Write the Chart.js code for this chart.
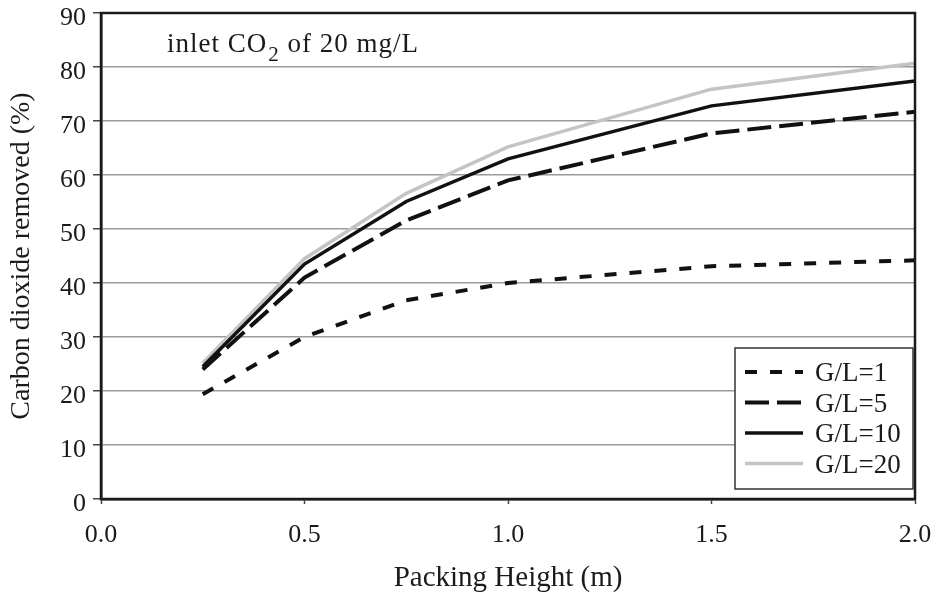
<!DOCTYPE html>
<html>
<head>
<meta charset="utf-8">
<script src="https://cdn.jsdelivr.net/npm/chart.js@4.4.0/dist/chart.umd.min.js"></script>
<style>
  html, body { margin: 0; padding: 0; background: #fff; }
  #wrap { width: 938px; height: 593px; }
</style>
</head>
<body>
<div id="wrap"><canvas id="myChart"></canvas></div>
<script>
// Packing height (m) of each measured point
const packingHeight = [0.25, 0.5, 0.75, 1.0, 1.5, 2.0];
// Carbon dioxide removed (%) for each gas/liquid ratio
const removedGL1 = [19.4, 30.0, 36.8, 40.0, 43.1, 44.2];
const removedGL5 = [24.0, 41.0, 51.6, 59.0, 67.7, 71.7];
const removedGL10 = [24.5, 43.5, 55.1, 63.0, 72.8, 77.4];
const removedGL20 = [25.2, 44.5, 56.6, 65.2, 75.9, 80.7];
const seriesLabels = ["G/L=1", "G/L=5", "G/L=10", "G/L=20"];
const xTicks = [0.0, 0.5, 1.0, 1.5, 2.0];
const yTicks = [0, 10, 20, 30, 40, 50, 60, 70, 80, 90];

const serif = "'Liberation Serif', 'Times New Roman', serif";
const ink = "#1a1a1a";

function toPoints(values) {
  return packingHeight.map((x, i) => ({ x: x, y: values[i] }));
}

// frame round the plot area
const plotFrame = {
  id: "plotFrame",
  afterDatasetsDraw(chart) {
    const { ctx, chartArea } = chart;
    ctx.save();
    ctx.strokeStyle = ink;
    ctx.lineWidth = 2.5;
    ctx.strokeRect(chartArea.left, chartArea.top, chartArea.right - chartArea.left, chartArea.bottom - chartArea.top);
    ctx.restore();
  },
};

// legend in a white box, bottom right inside the plot
const boxLegend = {
  id: "boxLegend",
  afterDraw(chart) {
    const { ctx, chartArea } = chart;
    const w = 178, h = 141;
    const left = chartArea.right - 2 - w;
    const top = chartArea.bottom - 10 - h;
    ctx.save();
    ctx.fillStyle = "#fff";
    ctx.fillRect(left, top, w, h);
    ctx.strokeStyle = "#333";
    ctx.lineWidth = 1.5;
    ctx.strokeRect(left, top, w, h);
    ctx.font = "27px " + serif;
    ctx.textBaseline = "middle";
    chart.data.datasets.forEach((ds, i) => {
      const y = top + 24 + i * 30.5;
      ctx.beginPath();
      ctx.setLineDash(ds.borderDash || []);
      ctx.strokeStyle = ds.borderColor;
      ctx.lineWidth = ds.borderWidth;
      ctx.moveTo(left + 10, y);
      ctx.lineTo(left + 68, y);
      ctx.stroke();
      ctx.setLineDash([]);
      ctx.fillStyle = ink;
      ctx.fillText(ds.label, left + 80, y + 2);
    });
    ctx.restore();
  },
};

// "inlet CO2 of 20 mg/L" note, top left
const inletNote = {
  id: "inletNote",
  afterDraw(chart) {
    const { ctx, chartArea } = chart;
    let x = chartArea.left + 66;
    const y = chartArea.top + 39;
    ctx.save();
    ctx.fillStyle = ink;
    ctx.textBaseline = "alphabetic";
    ctx.letterSpacing = "1px";
    ctx.font = "27px " + serif;
    ctx.fillText("inlet CO", x, y);
    x += ctx.measureText("inlet CO").width;
    ctx.font = "21px " + serif;
    ctx.fillText("2", x + 1, y + 9);
    x += ctx.measureText("2").width + 1;
    ctx.font = "27px " + serif;
    ctx.fillText(" of 20 mg/L", x, y);
    ctx.restore();
  },
};

const cfg = {
  type: "line",
  data: {
    datasets: [
      {
        label: seriesLabels[0],
        data: toPoints(removedGL1),
        borderColor: "#111",
        borderWidth: 4,
        borderDash: [12, 13],
      },
      {
        label: seriesLabels[1],
        data: toPoints(removedGL5),
        borderColor: "#111",
        borderWidth: 4,
        borderDash: [24, 8],
      },
      {
        label: seriesLabels[2],
        data: toPoints(removedGL10),
        borderColor: "#111",
        borderWidth: 3.5,
      },
      {
        label: seriesLabels[3],
        data: toPoints(removedGL20),
        borderColor: "#c4c4c4",
        borderWidth: 3.5,
      },
    ],
  },
  options: {
    responsive: true,
    maintainAspectRatio: false,
    animation: false,
    layout: { padding: { left: 0, right: 23, top: 13, bottom: 0 } },
    elements: {
      point: { radius: 0 },
      line: { tension: 0, fill: false },
    },
    plugins: {
      legend: { display: false },
      tooltip: { enabled: false },
    },
    scales: {
      x: {
        type: "linear",
        min: 0,
        max: 2,
        afterBuildTicks: (scale) => {
          scale.ticks = xTicks.map((v) => ({ value: v }));
        },
        afterFit: (scale) => {
          scale.height = 94;
          scale.paddingLeft = 0;
          scale.paddingRight = 0;
        },
        grid: {
          display: true,
          drawOnChartArea: false,
          tickLength: 5,
          tickColor: "#444",
          tickWidth: 1.5,
        },
        border: { display: true, color: ink, width: 2.5 },
        ticks: {
          color: ink,
          padding: 16,
          maxRotation: 0,
          font: { family: serif, size: 26 },
          callback: (v) => Number(v).toFixed(1),
        },
        title: {
          display: true,
          text: "Packing Height (m)",
          color: ink,
          font: { family: serif, size: 29 },
          padding: { top: 0, bottom: -3 },
        },
      },
      y: {
        type: "linear",
        min: 0,
        max: 90,
        afterBuildTicks: (scale) => {
          scale.ticks = yTicks.map((v) => ({ value: v }));
        },
        afterFit: (scale) => {
          scale.width = 101;
          scale.paddingTop = 0;
          scale.paddingBottom = 0;
        },
        grid: {
          color: "#9a9a9a",
          lineWidth: 1.5,
          tickLength: 8,
          tickColor: "#444",
          tickWidth: 1.5,
        },
        border: { display: true, color: ink, width: 2.5 },
        ticks: {
          color: ink,
          padding: 7,
          labelOffset: 5,
          font: { family: serif, size: 26 },
        },
        title: {
          display: true,
          text: "Carbon dioxide removed (%)",
          color: ink,
          font: { family: serif, size: 28 },
          padding: { top: 5, bottom: 0 },
        },
      },
    },
  },
  plugins: [plotFrame, boxLegend, inletNote],
};

const ctx = document.getElementById("myChart");

new Chart(ctx, cfg);
</script>
</body>
</html>
